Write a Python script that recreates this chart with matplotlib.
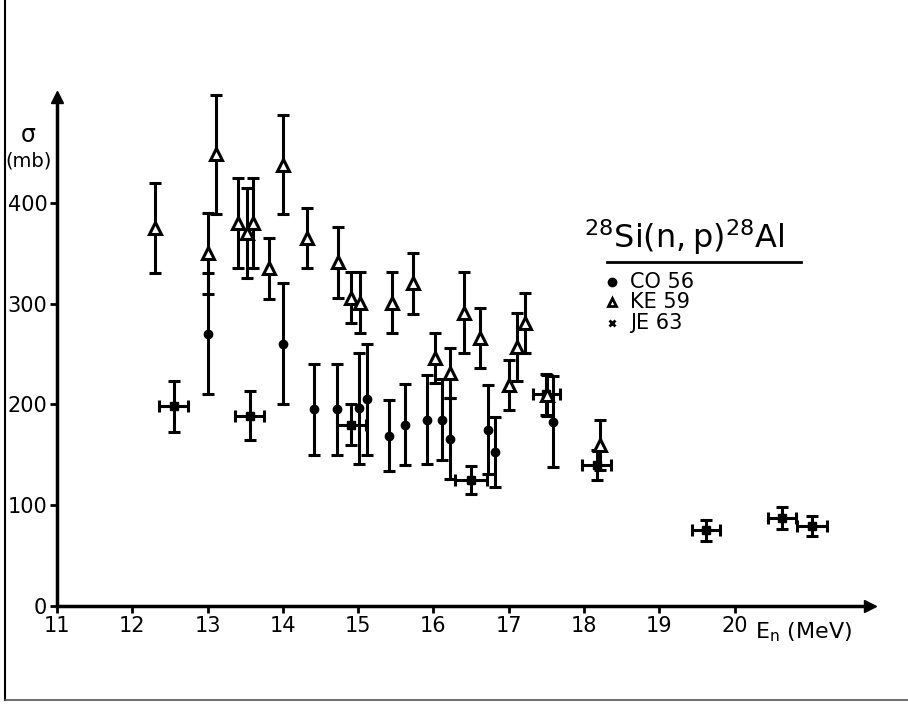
import matplotlib
matplotlib.use("Agg")
import matplotlib.pyplot as plt
from matplotlib.lines import Line2D

# CO 56 (dots)
co_e = [13.0, 14.0, 14.41, 14.72, 15.01, 15.12, 15.41, 15.62, 15.91, 16.11, 16.22, 16.72, 16.82, 17.59]
co_s = [270, 260, 195, 195, 196, 205, 169, 180, 185, 185, 166, 175, 153, 183]
co_err = [60, 60, 45, 45, 55, 55, 35, 40, 44, 40, 40, 44, 35, 45]

# KE 59 (open triangles)
ke_e = [12.30, 13.0, 13.11, 13.40, 13.52, 13.60, 13.82, 14.0, 14.32, 14.73, 14.90, 15.02,
        15.45, 15.73, 16.02, 16.22, 16.40, 16.62, 17.0, 17.11, 17.22, 17.51, 18.21]
ke_s = [375, 350, 448, 380, 370, 380, 335, 438, 365, 341, 306, 301,
        301, 320, 246, 231, 291, 266, 219, 257, 281, 209, 160]
ke_err = [45, 40, 59, 45, 45, 45, 30, 49, 30, 35, 25, 30,
          30, 30, 25, 25, 40, 30, 25, 34, 30, 20, 25]

# JE 63 (squares with energy bars)
je_e = [12.55, 13.56, 14.91, 16.50, 17.50, 18.17, 19.62, 20.63, 21.03]
je_s = [198, 189, 180, 125, 210, 140, 75, 87, 79]
je_err = [25, 24, 20, 14, 20, 15, 10, 11, 10]
je_xerr = [0.19, 0.19, 0.19, 0.21, 0.18, 0.19, 0.19, 0.19, 0.2]

x_ticks = [11, 12, 13, 14, 15, 16, 17, 18, 19, 20]
y_ticks = [0, 100, 200, 300, 400]

fig = plt.figure(figsize=(9.08, 7.05), dpi=100)
ax = fig.add_axes([0.0628, 0.1404, 0.8954, 0.722])

lw = 2.2
conts = []
conts.append(ax.errorbar(co_e, co_s, yerr=co_err, fmt='o', color='black', ms=6,
                         elinewidth=lw, capsize=4, capthick=lw, zorder=3))
conts.append(ax.errorbar(je_e, je_s, yerr=je_err, xerr=je_xerr, fmt='s', color='black', ms=6,
                         elinewidth=lw, capsize=4, capthick=lw, zorder=3))
conts.append(ax.errorbar(ke_e, ke_s, yerr=ke_err, fmt='^', color='black', mfc='white', mec='black',
                         mew=2.2, ms=8, elinewidth=lw, capsize=4, capthick=lw, zorder=4))
for c in conts:
    for a in c.get_children():
        a.set_clip_on(False)

ax.set_xlim(11, 21.8)
ax.set_ylim(0, 505)
ax.spines['top'].set_visible(False)
ax.spines['right'].set_visible(False)
ax.spines['left'].set_linewidth(2.5)
ax.spines['bottom'].set_linewidth(2.5)
ax.plot(1, 0, '>k', ms=9, transform=ax.transAxes, clip_on=False)
ax.plot(0, 1, '^k', ms=9, transform=ax.transAxes, clip_on=False)

ax.set_xticks(x_ticks)
ax.set_yticks(y_ticks)
ax.tick_params(direction='out', length=5, width=2, labelsize=15, pad=2)

ax.text(-0.035, 0.925, 'σ', transform=ax.transAxes, fontsize=17, ha='center', va='center')
ax.text(-0.035, 0.875, '(mb)', transform=ax.transAxes, fontsize=14, ha='center', va='center')
ax.text(0.858, -0.052, '$\\mathregular{E_n}$ (MeV)', transform=ax.transAxes, fontsize=16,
        ha='left', va='center')

# title & legend
fig.text(0.643, 0.635, '$\\mathregular{^{28}Si(n,p)^{28}Al}$', fontsize=23, ha='left', va='bottom')
fig.add_artist(Line2D([0.668, 0.882], [0.628, 0.628], color='black', lw=2))
labels = ['CO 56', 'KE 59', 'JE 63']
markers = [('o', 'black', 5), ('^', 'white', 6), ('x', 'black', 5)]
for i, (lab, (m, fc, s)) in enumerate(zip(labels, markers)):
    yy = 0.6 - i * 0.029
    fig.add_artist(Line2D([0.674], [yy], marker=m, color='black', mfc=fc, mec='black',
                          mew=2, ms=s, ls='none'))
    fig.text(0.694, yy, lab, fontsize=15, va='center')

# frame lines
fig.add_artist(Line2D([0.0055, 0.0055], [0.007, 1.0], color='black', lw=1.5))
fig.add_artist(Line2D([0.0055, 1.0], [0.007, 0.007], color='#555555', lw=1.2))

fig.savefig('out.png', dpi=100)
